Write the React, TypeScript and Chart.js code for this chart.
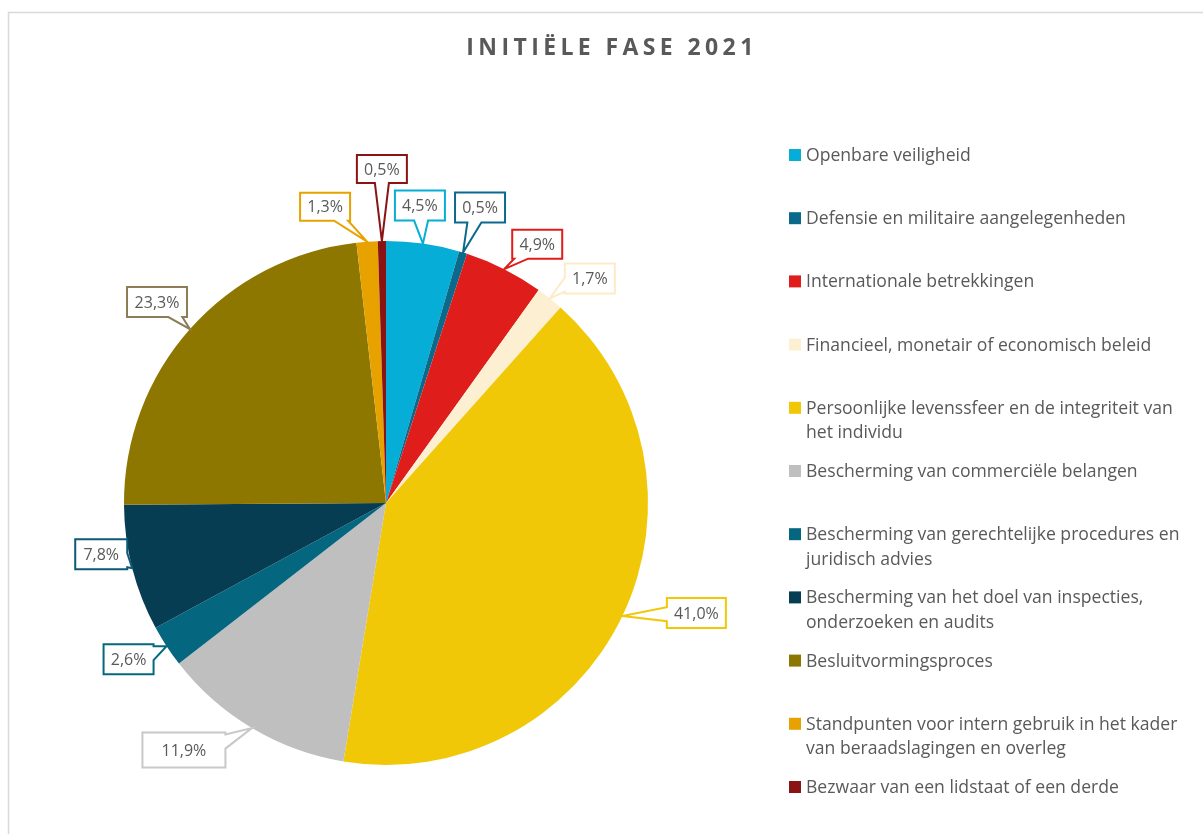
import React, { useEffect, useRef } from "react";
import { Chart, registerables } from "chart.js";

Chart.register(...registerables);

// ---------- DATA ----------
const categories: string[] = [
  "Openbare veiligheid",
  "Defensie en militaire aangelegenheden",
  "Internationale betrekkingen",
  "Financieel, monetair of economisch beleid",
  "Persoonlijke levenssfeer en de integriteit van\nhet individu",
  "Bescherming van commerciële belangen",
  "Bescherming van gerechtelijke procedures en\njuridisch advies",
  "Bescherming van het doel van inspecties,\nonderzoeken en audits",
  "Besluitvormingsproces",
  "Standpunten voor intern gebruik in het kader\nvan beraadslagingen en overleg",
  "Bezwaar van een lidstaat of een derde",
];

const values: number[] = [4.5, 0.5, 4.9, 1.7, 41.0, 11.9, 2.6, 7.8, 23.3, 1.3, 0.5];

const colors: string[] = [
  "#06ADD6",
  "#0B6A8C",
  "#DF1E1B",
  "#FDEFD1",
  "#F0C808",
  "#BFBFBF",
  "#05677F",
  "#073D53",
  "#8E7700",
  "#E8A200",
  "#8A1313",
];

const labelBorderColors: string[] = [
  "#06ADD6",
  "#0B6A8C",
  "#DF1E1B",
  "#FDEBC8",
  "#F0C808",
  "#C8C8C8",
  "#05677F",
  "#0B5A77",
  "#8C7D57",
  "#E8A200",
  "#8A1313",
];

const title = "INITIËLE FASE 2021";

// ---------- LAYOUT (callout placement relative to slice edge) ----------
const calloutLayout = [
  { dx: -3, dy: -38, w: 50, h: 30 },
  { dx: 17, dy: -45, w: 50, h: 30 },
  { dx: 33, dy: -25, w: 50, h: 29 },
  { dx: 40, dy: -20, w: 50, h: 30 },
  { dx: 74, dy: -3, w: 59, h: 30 },
  { dx: -68, dy: 22, w: 83, h: 35 },
  { dx: -38, dy: 13, w: 50, h: 30 },
  { dx: -31, dy: -14, w: 52, h: 30 },
  { dx: -33, dy: -27, w: 60, h: 30 },
  { dx: -42, dy: -35, w: 50, h: 28 },
  { dx: 0, dy: -72, w: 50, h: 28 },
];

const FONT_FAMILY = '"Open Sans", Lato, sans-serif';
const TEXT_COLOR = "#595959";

function calloutPath(
  ctx: CanvasRenderingContext2D,
  x0: number,
  y0: number,
  x1: number,
  y1: number,
  tx: number,
  ty: number
) {
  const cx = (x0 + x1) / 2;
  const cy = (y0 + y1) / 2;
  const hw = (x1 - x0) / 2;
  const hh = (y1 - y0) / 2;
  const dx = tx - cx;
  const dy = ty - cy;
  const b = 7;
  let edge: string;
  if (Math.abs(dx) / hw > Math.abs(dy) / hh) edge = dx > 0 ? "right" : "left";
  else edge = dy > 0 ? "bottom" : "top";
  let px = cx;
  let py = cy;
  if (edge === "top" || edge === "bottom") {
    px = cx + dx * (hh / Math.abs(dy));
    px = Math.max(x0 + b + 2, Math.min(x1 - b - 2, px));
  } else {
    py = cy + dy * (hw / Math.abs(dx));
    py = Math.max(y0 + b + 2, Math.min(y1 - b - 2, py));
  }
  ctx.beginPath();
  ctx.moveTo(x0, y0);
  if (edge === "top") {
    ctx.lineTo(px - b, y0);
    ctx.lineTo(tx, ty);
    ctx.lineTo(px + b, y0);
  }
  ctx.lineTo(x1, y0);
  if (edge === "right") {
    ctx.lineTo(x1, py - b);
    ctx.lineTo(tx, ty);
    ctx.lineTo(x1, py + b);
  }
  ctx.lineTo(x1, y1);
  if (edge === "bottom") {
    ctx.lineTo(px + b, y1);
    ctx.lineTo(tx, ty);
    ctx.lineTo(px - b, y1);
  }
  ctx.lineTo(x0, y1);
  if (edge === "left") {
    ctx.lineTo(x0, py + b);
    ctx.lineTo(tx, ty);
    ctx.lineTo(x0, py - b);
  }
  ctx.closePath();
}

const decorPlugin = {
  id: "decor",
  beforeDraw(chart: any) {
    const ctx: CanvasRenderingContext2D = chart.ctx;
    ctx.save();
    ctx.fillStyle = "#ffffff";
    ctx.fillRect(0, 0, chart.width, chart.height);
    ctx.strokeStyle = "#D9D9D9";
    ctx.lineWidth = 1.5;
    ctx.strokeRect(8.5, 12.5, chart.width + 20, chart.height + 20);
    ctx.restore();
  },
  afterDatasetsDraw(chart: any) {
    const ctx: CanvasRenderingContext2D = chart.ctx;
    const meta = chart.getDatasetMeta(0);
    ctx.save();
    ctx.font = `16px ${FONT_FAMILY}`;
    meta.data.forEach((arc: any, i: number) => {
      const p = arc.getProps(["x", "y", "startAngle", "endAngle", "outerRadius"], true);
      const mid = (p.startAngle + p.endAngle) / 2;
      const tx = p.x + Math.cos(mid) * p.outerRadius;
      const ty = p.y + Math.sin(mid) * p.outerRadius;
      const L = calloutLayout[i];
      const bx = tx + L.dx;
      const by = ty + L.dy;
      const x0 = bx - L.w / 2;
      const x1 = bx + L.w / 2;
      const y0 = by - L.h / 2;
      const y1 = by + L.h / 2;
      calloutPath(ctx, x0, y0, x1, y1, tx, ty);
      ctx.fillStyle = "#ffffff";
      ctx.fill();
      ctx.lineWidth = 2;
      ctx.lineJoin = "miter";
      ctx.strokeStyle = labelBorderColors[i];
      ctx.stroke();
      ctx.fillStyle = TEXT_COLOR;
      ctx.textAlign = "center";
      ctx.textBaseline = "middle";
      const txt = values[i].toFixed(1).replace(".", ",") + "%";
      ctx.fillText(txt, bx, by + 1);
    });
    ctx.restore();
  },
  afterDraw(chart: any) {
    const ctx: CanvasRenderingContext2D = chart.ctx;
    ctx.save();
    // title
    ctx.font = `bold 23px ${FONT_FAMILY}`;
    (ctx as any).letterSpacing = "4.4px";
    ctx.fillStyle = TEXT_COLOR;
    ctx.textAlign = "center";
    ctx.textBaseline = "middle";
    ctx.fillText(title, 612, 48);
    (ctx as any).letterSpacing = "0px";
    // legend
    ctx.font = `17.6px ${FONT_FAMILY}`;
    ctx.textAlign = "left";
    const labels: string[] = chart.data.labels;
    labels.forEach((_l: string, i: number) => {
      const lines = categories[i].split("\n");
      const y = 155 + i * 63.2;
      ctx.fillStyle = colors[i];
      ctx.fillRect(789, y - 6, 12, 12);
      ctx.fillStyle = TEXT_COLOR;
      lines.forEach((ln, k) => {
        ctx.fillText(ln, 806, y + k * 24.5 + 1);
      });
    });
    ctx.restore();
  },
};

export default function App() {
  const ref = useRef<HTMLCanvasElement | null>(null);
  useEffect(() => {
    if (!ref.current) return;
    const chart = new Chart(ref.current, {
      type: "pie",
      data: {
        labels: categories.map((c) => c.replace("\n", " ")),
        datasets: [
          {
            data: values,
            backgroundColor: colors,
            borderWidth: 0,
            hoverOffset: 0,
            offset: 0,
          } as any,
        ],
      },
      options: {
        responsive: false,
        animation: false,
        events: [],
        layout: { padding: { left: 124, top: 241, right: 555, bottom: 69 } },
        plugins: {
          legend: { display: false },
          tooltip: { enabled: false },
          title: { display: false },
        },
      },
      plugins: [decorPlugin],
    });
    return () => chart.destroy();
  }, []);
  return (
    <div style={{ position: "fixed", left: 0, top: 0, width: 1203, height: 834, background: "#fff" }}>
      <canvas ref={ref} width={1203} height={834} style={{ display: "block", width: 1203, height: 834 }} />
    </div>
  );
}
